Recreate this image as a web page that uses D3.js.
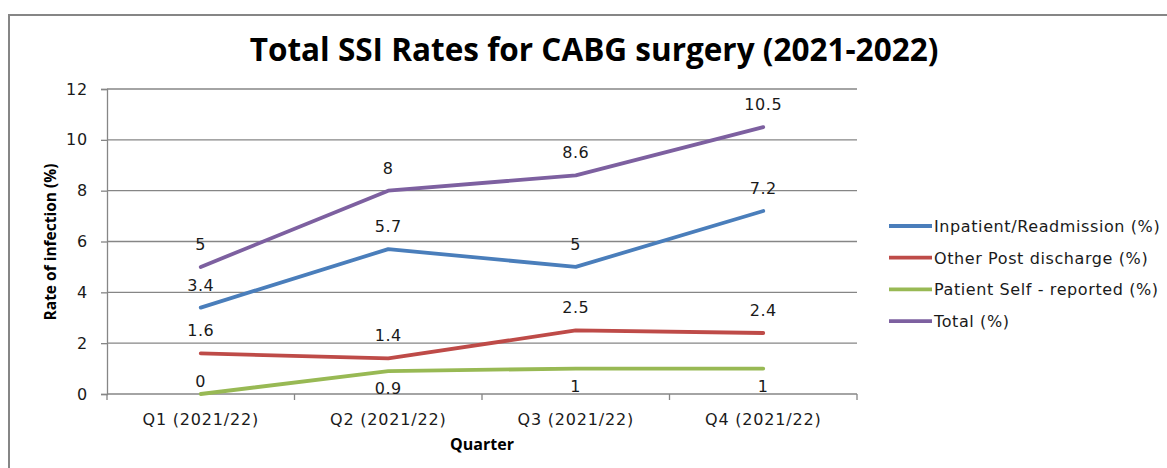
<!DOCTYPE html>
<html>
<head>
<meta charset="utf-8">
<script src="https://cdn.jsdelivr.net/npm/d3@7"></script>
<style>
  body { margin: 0; background: #fff; }
  svg { display: block; }
</style>
</head>
<body>
<script>
// data
var quarters = ['Q1 (2021/22)', 'Q2 (2021/22)', 'Q3 (2021/22)', 'Q4 (2021/22)'];
var seriesNames = ['Inpatient/Readmission (%)', 'Other Post discharge (%)', 'Patient Self - reported (%)', 'Total (%)'];
var inpatient = [3.4, 5.7, 5, 7.2];
var postDischarge = [1.6, 1.4, 2.5, 2.4];
var selfReported = [0, 0.9, 1, 1];
var total = [5, 8, 8.6, 10.5];
var seriesColors = ['#4a7ebb', '#be4b48', '#98b954', '#7d60a0'];
// where Excel put the value labels: above, just above ('near') or below the point
var labelSide = [
    ['above', 'above', 'above', 'above'],
    ['above', 'above', 'above', 'above'],
    ['near', 'below', 'below', 'below'],
    ['above', 'above', 'above', 'above']
];
var yTicks = [0, 2, 4, 6, 8, 10, 12];

var scr = { w: 1167, h: 468 };
var plot = { left: 107, right: 857, top: 89, bottom: 394 }; // plot area box

var svg = d3.select('body').append('svg')
    .attr('width', scr.w)
    .attr('height', scr.h);

// chart border (runs off the right and bottom of the picture)
svg.append('rect')
    .attr('x', 9).attr('y', 15)
    .attr('width', 1200).attr('height', 500)
    .attr('fill', 'none')
    .attr('stroke', '#868686')
    .attr('stroke-width', 2);

svg.append('text')
    .attr('x', 594).attr('y', 61)
    .attr('text-anchor', 'middle')
    .style('font-family', 'Open Sans, sans-serif')
    .style('font-weight', 'bold')
    .style('font-size', '31.5px')
    .text('Total SSI Rates for CABG surgery (2021-2022)');

var xScale = d3.scaleBand()
    .domain(quarters)
    .range([plot.left, plot.right]);

var yScale = d3.scaleLinear()
    .domain([0, 12])
    .range([plot.bottom, plot.top]);

var axisFont = 'DejaVu Sans, Verdana, sans-serif';
var gray = '#868686';
var txtColor = '#1a1a1a';

// gridlines
svg.append('g').selectAll('line')
    .data(yTicks.filter(function(d) { return d > 0; }))
    .enter()
    .append('line')
    .attr('x1', plot.left).attr('x2', plot.right)
    .attr('y1', function(d) { return yScale(d); })
    .attr('y2', function(d) { return yScale(d); })
    .attr('stroke', gray)
    .attr('stroke-width', 1.3);

// y axis
var yAxis = d3.axisLeft(yScale)
    .tickValues(yTicks)
    .tickSize(6)
    .tickPadding(13);
var gy = svg.append('g')
    .attr('transform', 'translate(' + plot.left + ',0)')
    .call(yAxis);
gy.select('.domain').attr('stroke', gray).attr('stroke-width', 1.3);
gy.selectAll('.tick line').attr('stroke', gray).attr('stroke-width', 1.3);
gy.selectAll('.tick text')
    .style('font-family', axisFont)
    .style('font-size', '16px')
    .style('letter-spacing', '0.8px')
    .attr('fill', txtColor);

// x axis: ticks on the category boundaries
var boundaries = quarters.map(function(q) { return xScale(q); }).concat([plot.right]);
var gx = svg.append('g');
gx.append('line')
    .attr('x1', plot.left).attr('x2', plot.right)
    .attr('y1', plot.bottom).attr('y2', plot.bottom)
    .attr('stroke', gray).attr('stroke-width', 1.3);
gx.selectAll('.bt')
    .data(boundaries)
    .enter()
    .append('line')
    .attr('x1', function(d) { return d; })
    .attr('x2', function(d) { return d; })
    .attr('y1', plot.bottom).attr('y2', plot.bottom + 6)
    .attr('stroke', gray).attr('stroke-width', 1.3);
gx.selectAll('text')
    .data(quarters)
    .enter()
    .append('text')
    .attr('x', function(d) { return xScale(d) + xScale.bandwidth() / 2; })
    .attr('y', plot.bottom + 31)
    .attr('text-anchor', 'middle')
    .style('font-family', axisFont)
    .style('font-size', '16px')
    .style('letter-spacing', '0.8px')
    .attr('fill', txtColor)
    .text(function(d) { return d; });

// axis titles
svg.append('text')
    .attr('x', 482).attr('y', 450)
    .attr('text-anchor', 'middle')
    .style('font-family', 'Open Sans, sans-serif')
    .style('font-weight', 'bold')
    .style('font-size', '16px')
    .text('Quarter');

svg.append('text')
    .attr('transform', 'translate(56,242) rotate(-90)')
    .attr('text-anchor', 'middle')
    .style('font-family', 'Open Sans, sans-serif')
    .style('font-weight', 'bold')
    .style('font-size', '15.5px')
    .text('Rate of infection (%)');

// series lines
var allSeries = [inpatient, postDischarge, selfReported, total];
var line = d3.line()
    .x(function(d, i) { return xScale(quarters[i]) + xScale.bandwidth() / 2; })
    .y(function(d) { return yScale(d); });

var lines = svg.append('g');
allSeries.forEach(function(vals, s) {
    lines.append('path')
        .datum(vals)
        .attr('d', line)
        .attr('fill', 'none')
        .attr('stroke', seriesColors[s])
        .attr('stroke-width', 3.8)
        .attr('stroke-linejoin', 'round')
        .attr('stroke-linecap', 'round');
});

// value labels
var labelOffset = { above: -17, near: -7, below: 23 };
var labels = svg.append('g');
allSeries.forEach(function(vals, s) {
    labels.selectAll('.lab' + s)
        .data(vals)
        .enter()
        .append('text')
        .attr('x', function(d, i) { return xScale(quarters[i]) + xScale.bandwidth() / 2; })
        .attr('y', function(d, i) {
            return yScale(d) + labelOffset[labelSide[s][i]];
        })
        .attr('text-anchor', 'middle')
        .style('font-family', axisFont)
        .style('font-size', '16px')
        .style('letter-spacing', '0.6px')
        .attr('fill', txtColor)
        .text(function(d) { return d; });
});

// legend
var legend = svg.append('g');
seriesNames.forEach(function(name, s) {
    var y = 226 + s * 31.7;
    legend.append('line')
        .attr('x1', 889).attr('x2', 932)
        .attr('y1', y).attr('y2', y)
        .attr('stroke', seriesColors[s])
        .attr('stroke-width', 3.8);
    legend.append('text')
        .attr('x', 934).attr('y', y + 6)
        .style('font-family', axisFont)
        .style('font-size', '16px')
        .style('letter-spacing', '0.6px')
        .attr('fill', txtColor)
        .text(name);
});
</script>
</body>
</html>
